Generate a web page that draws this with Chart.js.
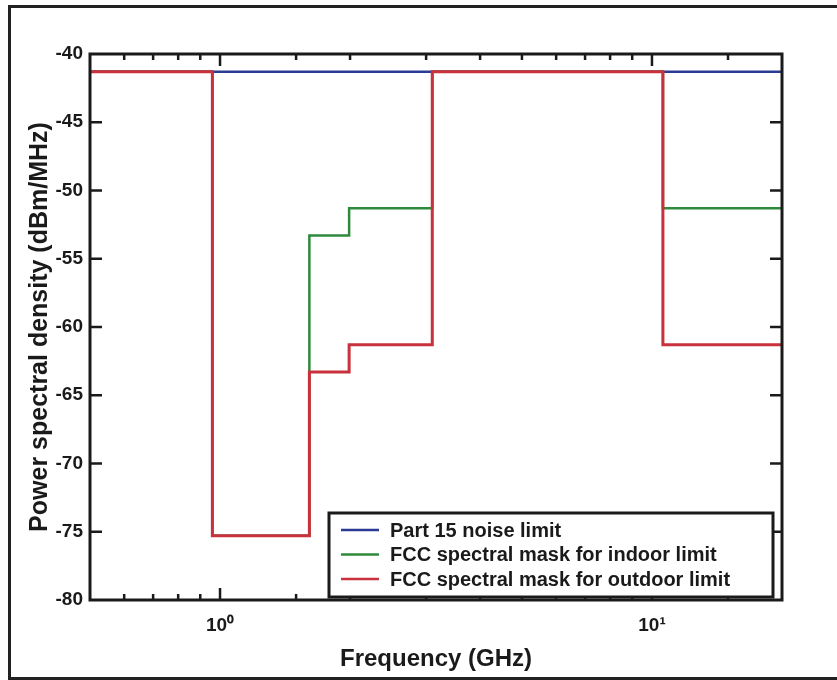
<!DOCTYPE html>
<html>
<head>
<meta charset="utf-8">
<script src="https://cdn.jsdelivr.net/npm/chart.js@4"></script>
<style>
    html, body { margin: 0; padding: 0; background: #fff; }
    #wrap { position: relative; width: 837px; height: 680px; overflow: hidden; }
    #frame {
        position: absolute; left: 8px; top: 5px; width: 860px; height: 669px;
        border: 3px solid #222; pointer-events: none;
    }
</style>
</head>
<body>
<div id="wrap">
    <canvas id="psd-chart" width="837" height="680"></canvas>
    <div id="frame"></div>
</div>
<script>
// band edges in GHz (each level holds from its edge up to the next one)
const freqEdges = [0.5, 0.96, 1.61, 1.99, 3.1, 10.6, 20];
const part15Levels = [-41.3, -41.3, -41.3, -41.3, -41.3, -41.3, -41.3];
const indoorLevels = [-41.3, -75.3, -53.3, -51.3, -41.3, -51.3, -51.3];
const outdoorLevels = [-41.3, -75.3, -63.3, -61.3, -41.3, -61.3, -61.3];
const seriesNames = ['Part 15 noise limit', 'FCC spectral mask for indoor limit', 'FCC spectral mask for outdoor limit'];
const decadeLabels = { 1: '10\u2070', 10: '10\u00b9' };

const FONT = "'Liberation Sans', Arial, sans-serif";

const toPoints = levels => freqEdges.map((f, i) => ({ x: f, y: levels[i] }));

// inward tick marks on all four sides + plot box
const tickFrame = {
    id: 'tickFrame',
    afterDatasetsDraw(chart) {
        const { ctx, chartArea: a, scales: { x, y } } = chart;
        ctx.save();
        ctx.strokeStyle = '#1a1a1a';
        ctx.lineWidth = 2.5;
        x.ticks.forEach(t => {
            const px = x.getPixelForValue(t.value);
            if (px < a.left + 2 || px > a.right - 2) return;
            const len = decadeLabels[t.value] ? 12 : 6;
            ctx.beginPath();
            ctx.moveTo(px, a.bottom); ctx.lineTo(px, a.bottom - len);
            ctx.moveTo(px, a.top); ctx.lineTo(px, a.top + len);
            ctx.stroke();
        });
        y.ticks.forEach(t => {
            const py = y.getPixelForValue(t.value);
            if (py < a.top + 2 || py > a.bottom - 2) return;
            ctx.beginPath();
            ctx.moveTo(a.left, py); ctx.lineTo(a.left + 12, py);
            ctx.moveTo(a.right, py); ctx.lineTo(a.right - 12, py);
            ctx.stroke();
        });
        ctx.lineWidth = 3;
        ctx.strokeRect(a.left, a.top, a.right - a.left, a.bottom - a.top);
        ctx.restore();
    }
};

// boxed legend sitting in the lower right corner of the plot
const boxLegend = {
    id: 'boxLegend',
    afterDraw(chart) {
        const { ctx, chartArea: a } = chart;
        const w = 444, rowH = 24.5;
        const h = 84;
        const x0 = a.right - 9 - w, y0 = a.bottom - 3 - h;
        ctx.save();
        ctx.fillStyle = '#fff';
        ctx.fillRect(x0, y0, w, h);
        ctx.strokeStyle = '#1a1a1a';
        ctx.lineWidth = 3;
        ctx.strokeRect(x0, y0, w, h);
        ctx.font = 'bold 20px ' + FONT;
        ctx.textBaseline = 'middle';
        chart.data.datasets.forEach((ds, i) => {
            const cy = y0 + 17 + i * rowH;
            ctx.strokeStyle = ds.borderColor;
            ctx.lineWidth = 2.5;
            ctx.beginPath();
            ctx.moveTo(x0 + 12, cy); ctx.lineTo(x0 + 50, cy);
            ctx.stroke();
            ctx.fillStyle = '#1a1a1a';
            ctx.fillText(ds.label, x0 + 61, cy + 1);
        });
        ctx.restore();
    }
};

const psdChart = new Chart(document.getElementById('psd-chart').getContext('2d'), {
    type: 'line',
    data: {
        datasets: [{
            label: seriesNames[0],
            data: toPoints(part15Levels),
            borderColor: '#2b3a92',
            borderWidth: 2.5,
            stepped: 'before',
            pointRadius: 0,
            order: 3
        }, {
            label: seriesNames[1],
            data: toPoints(indoorLevels),
            borderColor: '#2e8a3b',
            borderWidth: 2.5,
            stepped: 'before',
            pointRadius: 0,
            order: 2
        }, {
            label: seriesNames[2],
            data: toPoints(outdoorLevels),
            borderColor: '#c9313d',
            borderWidth: 3,
            stepped: 'before',
            pointRadius: 0,
            order: 1
        }]
    },
    options: {
        responsive: false,
        animation: false,
        layout: { padding: { left: 0, top: 54, right: 55, bottom: 0 } },
        plugins: {
            legend: { display: false },
            tooltip: { enabled: false }
        },
        scales: {
            x: {
                type: 'logarithmic',
                min: 0.5,
                max: 20,
                grid: { display: false, drawTicks: false },
                border: { display: false },
                afterFit: scale => { scale.height = 80; },
                ticks: {
                    autoSkip: false,
                    maxRotation: 0,
                    padding: 14,
                    color: '#1a1a1a',
                    font: { family: FONT, size: 19, weight: 'bold' },
                    callback: value => decadeLabels[value] || ''
                },
                title: {
                    display: true,
                    text: 'Frequency (GHz)',
                    color: '#1a1a1a',
                    font: { family: FONT, size: 24, weight: 'bold', lineHeight: 1 },
                    padding: { top: 0, bottom: 9 }
                }
            },
            y: {
                min: -80,
                max: -40,
                grid: { display: false, drawTicks: false },
                border: { display: false },
                afterFit: scale => { scale.width = 90; },
                ticks: {
                    stepSize: 5,
                    padding: 7,
                    color: '#1a1a1a',
                    font: { family: FONT, size: 19, weight: 'bold' }
                },
                title: {
                    display: true,
                    text: 'Power spectral density (dBm/MHz)',
                    color: '#1a1a1a',
                    font: { family: FONT, size: 25, weight: 'bold', lineHeight: 1 },
                    padding: { top: 28, bottom: 0 }
                }
            }
        }
    },
    plugins: [tickFrame, boxLegend]
});
</script>
</body>
</html>
